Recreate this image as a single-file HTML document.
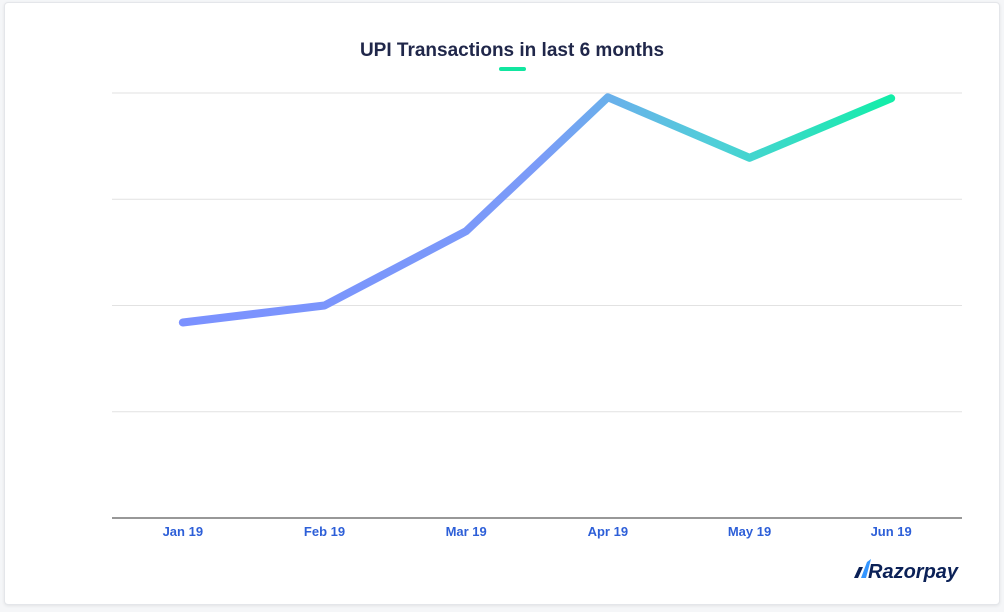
<!DOCTYPE html>
<html><head><meta charset="utf-8"><style>
body{margin:0;background:#f5f6f8;width:1004px;height:612px;overflow:hidden;font-family:"Liberation Sans",sans-serif}
#card{position:absolute;left:4px;top:2px;width:994px;height:601px;background:#fff;border:1px solid #e4e6ea;border-radius:4px;box-shadow:0 1px 3px rgba(0,0,0,.08)}
</style></head><body>
<div id="card"></div>
<svg id="chart" width="1004" height="612" style="position:absolute;left:0;top:0">
<defs><linearGradient id="lg" gradientUnits="userSpaceOnUse" x1="183" y1="0" x2="893" y2="0">
<stop offset="0" stop-color="#7b91ff"/><stop offset="0.5" stop-color="#7b9bf8"/><stop offset="0.75" stop-color="#4fcfd8"/><stop offset="1" stop-color="#12eea8"/></linearGradient></defs>
<text x="512" y="56" text-anchor="middle" font-size="19" font-weight="bold" fill="#20274a">UPI Transactions in last 6 months</text>
<rect x="499" y="67" width="27" height="4" rx="2" fill="#12e6a0"/>
<g id="grid"></g><g id="xl"></g><g id="plot"></g>
<g>
<polygon points="854,578 859,567 863,567 858,578" fill="#0b2157"/>
<polygon points="861,578 867,562 871,559 866,578" fill="#3395ff"/>
<text x="868" y="578" font-size="20" font-weight="bold" font-style="italic" fill="#0b2157">Razorpay</text></g>
</svg>
<script>
const categories=["Jan 19","Feb 19","Mar 19","Apr 19","May 19","Jun 19"];
const values=[1.84,2.0,2.7,3.96,3.39,3.95];
const yTicks=[0,1,2,3,4];
const X0=112,X1=962,Y0=518,Y1=93,YMAX=4;
const step=(X1-X0)/categories.length;
const xs=i=>X0+step*(i+0.5);
const ys=v=>Y0-(v/YMAX)*(Y0-Y1);
const ns="http://www.w3.org/2000/svg";
const grid=document.getElementById('grid'),xl=document.getElementById('xl'),plot=document.getElementById('plot');
yTicks.forEach(t=>{const l=document.createElementNS(ns,'line');


l.setAttribute('x1',X0);l.setAttribute('x2',X1);l.setAttribute('y1',ys(t));l.setAttribute('y2',ys(t));
l.setAttribute('stroke',t===0?'#777':'#e2e2e2');l.setAttribute('stroke-width',t===0?1.5:1);grid.appendChild(l);});
categories.forEach((c,i)=>{const t=document.createElementNS(ns,'text');


t.setAttribute('x',xs(i));t.setAttribute('y',536);t.setAttribute('text-anchor','middle');
t.setAttribute('font-size','13');t.setAttribute('font-weight','bold');t.setAttribute('fill','#2d5fd8');t.textContent=c;xl.appendChild(t);});
const p=document.createElementNS(ns,'polyline');


p.setAttribute('points',values.map((v,i)=>xs(i)+','+ys(v)).join(' '));
p.setAttribute('fill','none');p.setAttribute('stroke','url(#lg)');p.setAttribute('stroke-width','8');
p.setAttribute('stroke-linecap','round');p.setAttribute('stroke-linejoin','round');plot.appendChild(p);
</script>
</body></html>
